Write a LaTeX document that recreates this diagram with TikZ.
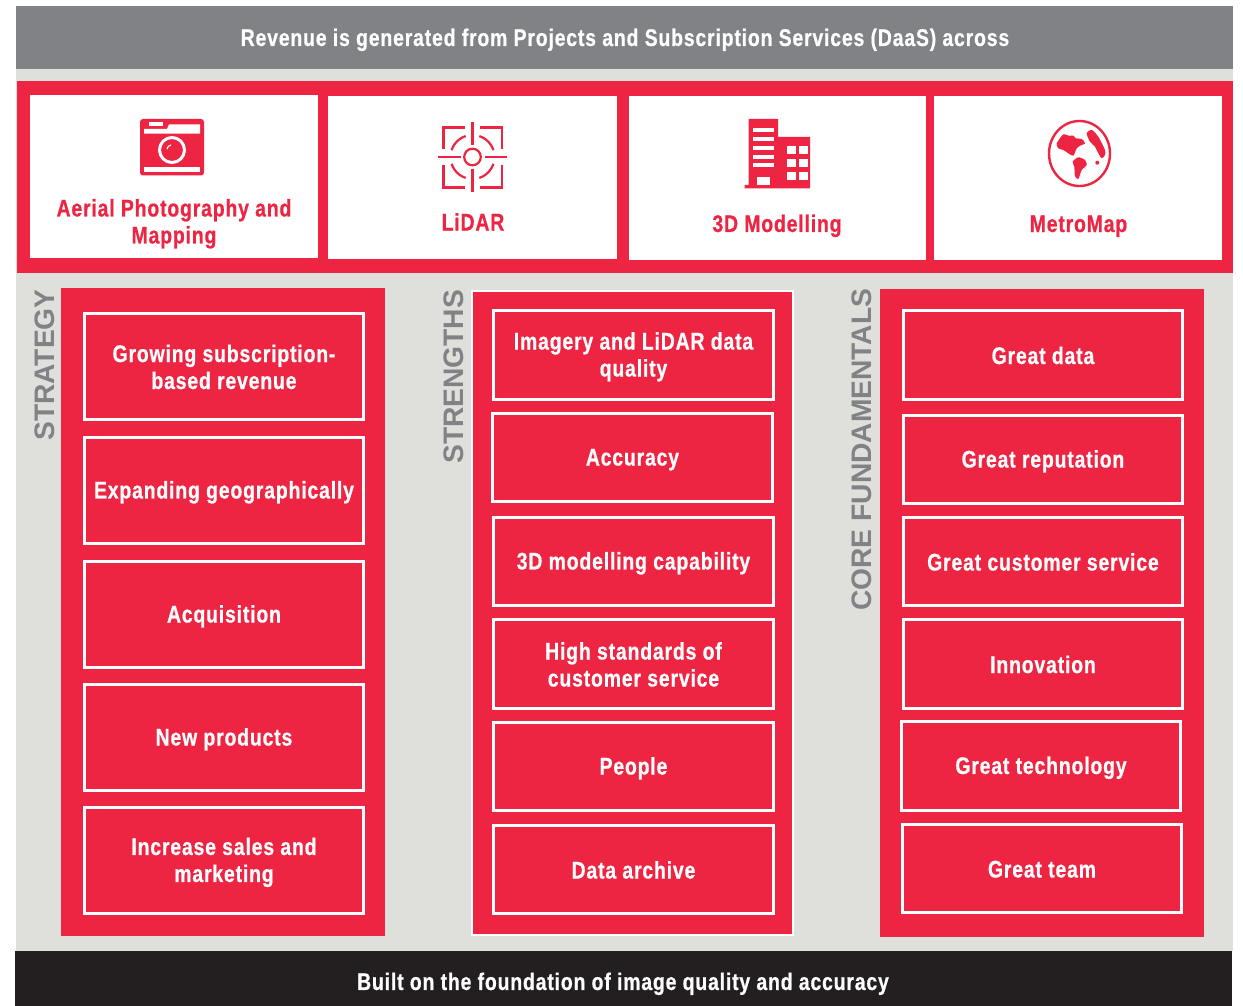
\documentclass[tikz,border=0pt]{standalone}
\usepackage{fontspec}
\setmainfont[FakeStretch=0.81,LetterSpace=3.4,FakeBold=0.6]{Liberation Sans}
\newfontfamily\widefont{Liberation Sans}
\usetikzlibrary{calc}
\definecolor{rd}{HTML}{EE2443}
\definecolor{gy}{HTML}{808285}
\definecolor{lg}{HTML}{DFDFDB}
\definecolor{bk}{HTML}{231F20}
\tikzset{
 x=1pt,y=-1pt,
 txt/.style={font=\fontsize{24}{27}\selectfont\bfseries,align=center,text=white,inner sep=0},
 redtxt/.style={txt,text=rd},
 sidelabel/.style={font=\widefont\fontsize{28.2}{30}\selectfont\bfseries,text=gy,rotate=90,anchor=west,inner sep=0},
 band/.style={draw=none,inner sep=0,outer sep=0},
 tile/.style={fill=rd,draw=white,line width=3.2pt,inner sep=0,outer sep=0},
 card/.style={fill=white,draw=none,inner sep=0,outer sep=0},
 ico/.style={fill=rd,draw=none},
 icoline/.style={draw=rd,line width=2.2pt},
}
\newcommand{\st}{\rule[-3pt]{0pt}{24pt}}
\newcommand{\bx}[7][tile]{%
 \pgfmathsetmacro{\cx}{((#3)+(#5))/2}\pgfmathsetmacro{\cy}{((#4)+(#6))/2}%
 \pgfmathsetmacro{\ww}{(#5)-(#3)}\pgfmathsetmacro{\hh}{(#6)-(#4)}%
 \node[#1,minimum width=\ww pt,minimum height=\hh pt] (#2) at (\cx,\cy) {};%
 \ifx&#7&\else\node[txt] at (\cx,\cy) {\st #7\st};\fi}
\newcommand{\tl}[6]{\bx{#1}{#2+0.7}{#3+0.7}{#4-0.7}{#5-0.7}{#6}}
\begin{document}
\begin{tikzpicture}
\useasboundingbox (0,0) rectangle (1243,1006);
\fill[white] (0,0) rectangle (1243,1006);
% bands
\bx[band,fill=lg]{bg}{16}{69}{1233}{951}{}
\bx[band,fill=gy]{top}{16}{6}{1233}{69}{}
\node[txt] at (625,38) {\st Revenue is generated from Projects and Subscription Services (DaaS) across\st};
\bx[band,fill=bk]{bottom}{15}{951}{1232}{1006}{}
\node[txt] at (623,982) {\st Built on the foundation of image quality and accuracy\st};
\bx[band,fill=rd]{redband}{17}{81}{1233}{273}{}
% cards
\bx[card]{c1}{30}{95}{318}{258}{}
\bx[card]{c2}{328}{96}{617}{259}{}
\bx[card]{c3}{629}{96}{926}{260}{}
\bx[card]{c4}{934}{96}{1222}{260}{}
\node[redtxt] at (174,222) {\st Aerial Photography and\\Mapping\st};
\node[redtxt] at (473,221.5) {\st LiDAR\st};
\node[redtxt] at (777,224) {\st 3D Modelling\st};
\node[redtxt] at (1078.5,224) {\st MetroMap\st};
% camera
\fill[ico,rounded corners=3pt] (140,119) rectangle (204,175.5);
\fill[white] (144,129) -- (167,129) -- (169,124.3) -- (200,124.3) -- (200,133.7) -- (144,133.7) -- cycle;
\fill[white] (149,121.7) rectangle (163,126);
\fill[white] (144,167) rectangle (200,172);
\draw[white,line width=3pt] (172,150) circle (12.5);
\draw[white,line width=1.2pt] plot[smooth,domain=100:170,samples=8] ({172+5*cos(\x)},{150-5*sin(\x)});
% lidar
\begin{scope}[icoline]
 \draw (472.5,122) -- (472.5,145);
 \draw (472.5,169) -- (472.5,192);
 \draw (438,157) -- (461,157);
 \draw (485,157) -- (507,157);
 \draw (472.5,157) circle (8.3);
 \draw (465,127.5) -- (443.5,127.5) -- (443.5,149);
 \draw (480,127.5) -- (502,127.5) -- (502,149);
 \draw (443.5,165) -- (443.5,187.5) -- (465,187.5);
 \draw (502,165) -- (502,187.5) -- (480,187.5);
 \foreach \a in {18,108,198,288}
  \draw plot[smooth,domain=\a:\a+54,samples=7] ({472.5+22*cos(\x)},{157-22*sin(\x)});
\end{scope}
% building
\fill[ico] (748.5,119) -- (778,119) -- (778,137) -- (810,137) -- (810,188.5) -- (744.5,188.5) -- (744.5,185) -- (748.5,185) -- cycle;
\foreach \yy in {128.5,137.5,146,155,163.5} \fill[white] (753,\yy) rectangle (774,\yy+4);
\foreach \xx in {787,799} \foreach \yy in {146,159,172} \fill[white] (\xx,\yy) rectangle (\xx+9,\yy+8.5);
\fill[white] (757,177) rectangle (770,185);
% globe
\draw[rd,line width=2.4pt] (1079.5,153.5) ellipse (30.5 and 32.5);
\fill[ico] plot[smooth cycle,tension=.45] coordinates {(1056.7,143.3) (1063.3,134.3) (1068.3,135.7) (1073.3,135.7) (1076,138.3) (1081.7,139) (1085,143.3) (1080,145.7) (1076.7,148.3) (1073.3,155.7) (1068.3,153.3) (1063.3,150) (1058.3,148.3)};
\fill[ico] plot[smooth cycle,tension=.45] coordinates {(1086.7,133.3) (1091.7,130) (1098.3,136.7) (1105,150) (1105,155) (1101.7,158.3) (1098.3,153.3) (1095,146.7) (1090,141.7)};
\fill[ico] plot[smooth cycle,tension=.45] coordinates {(1072.7,161.7) (1078.3,157.3) (1085,160) (1086.7,165) (1081.7,170) (1078.3,179) (1075,176) (1074.3,166.7)};
\fill[ico] (1097.3,162.7) circle (2);
% columns
\bx[band,fill=rd]{col1}{61}{288}{385}{936}{}
\bx[band,fill=rd,draw=white,line width=2pt]{col2}{472}{291}{793}{935}{}
\bx[band,fill=rd]{col3}{880}{289}{1204}{937}{}
\node[sidelabel] at (45,441) {STRATEGY};
\node[sidelabel] at (454,464) {STRENGTHS};
\node[sidelabel] at (862,611) {CORE FUNDAMENTALS};
% column 1
\tl{a1}{84}{313}{364}{420}{Growing subscription-\\based revenue}
\tl{a2}{84}{437}{364}{544}{Expanding geographically}
\tl{a3}{84}{561}{364}{668}{Acquisition}
\tl{a4}{84}{684}{364}{791}{New products}
\tl{a5}{84}{807}{364}{914}{Increase sales and\\marketing}
% column 2
\tl{b1}{493}{310}{774}{400}{Imagery and LiDAR data\\quality}
\tl{b2}{492}{413}{773}{502}{Accuracy}
\tl{b3}{493}{517}{774}{606}{3D modelling capability}
\tl{b4}{493}{619}{774}{709}{High standards of\\customer service}
\tl{b5}{493}{722}{774}{811}{People}
\tl{b6}{493}{825}{774}{914}{Data archive}
% column 3
\tl{d1}{903}{310}{1183}{400}{Great data}
\tl{d2}{903}{415}{1183}{504}{Great reputation}
\tl{d3}{903}{517}{1183}{606}{Great customer service}
\tl{d4}{903}{619}{1183}{709}{Innovation}
\tl{d5}{901}{721}{1181}{811}{Great technology}
\tl{d6}{902}{824}{1182}{913}{Great team}
\end{tikzpicture}
\end{document}
